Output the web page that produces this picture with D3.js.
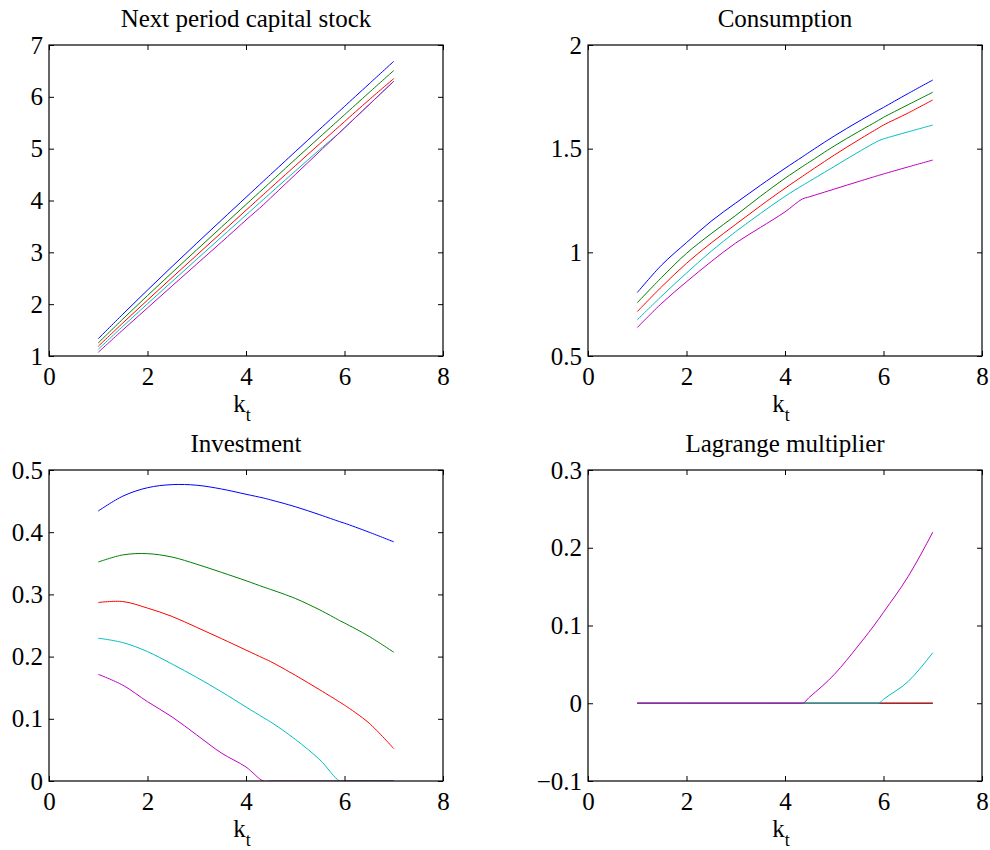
<!DOCTYPE html>
<meta charset="utf-8">
<style>
  body { margin: 0; background: #fff; }
  text { font-family: "Times New Roman", Times, "Liberation Serif", "DejaVu Serif", serif; fill: #000; }
</style>
<body>
<script src="https://d3js.org/d3.v7.min.js"></script>
<script>

// capital grid (k_t), shared by all series
var kGrid = [1, 1.5, 2, 2.5, 3, 3.5, 4, 4.35, 4.5, 5, 5.5, 5.9, 6, 6.5, 7];

// series colours (matlab default order)
var colors = ["#0000ff", "#008000", "#ff0000", "#00bfbf", "#bf00bf"];

// next period capital stock
var capBlue    = [1.334, 1.808, 2.272, 2.727, 3.176, 3.620, 4.061, 4.370, 4.502, 4.941, 5.378, 5.727, 5.815, 6.250, 6.685];
var capGreen   = [1.252, 1.714, 2.166, 2.610, 3.049, 3.486, 3.922, 4.227, 4.358, 4.794, 5.225, 5.568, 5.654, 6.083, 6.507];
var capRed     = [1.187, 1.638, 2.078, 2.515, 2.947, 3.379, 3.811, 4.113, 4.242, 4.670, 5.097, 5.437, 5.522, 5.943, 6.352];
var capCyan    = [1.130, 1.573, 2.008, 2.438, 2.867, 3.294, 3.719, 4.017, 4.145, 4.567, 4.984, 5.310, 5.400, 5.850, 6.300];
var capMagenta = [1.072, 1.504, 1.928, 2.353, 2.774, 3.195, 3.623, 3.915, 4.050, 4.500, 4.950, 5.310, 5.400, 5.850, 6.300];

// consumption
var conBlue    = [0.806, 0.940, 1.047, 1.150, 1.238, 1.323, 1.405, 1.460, 1.484, 1.561, 1.632, 1.686, 1.699, 1.766, 1.831];
var conGreen   = [0.757, 0.880, 0.995, 1.090, 1.178, 1.270, 1.357, 1.413, 1.436, 1.513, 1.583, 1.637, 1.651, 1.712, 1.772];
var conRed     = [0.714, 0.835, 0.947, 1.045, 1.135, 1.224, 1.309, 1.366, 1.390, 1.469, 1.543, 1.600, 1.614, 1.672, 1.735];
var conCyan    = [0.674, 0.790, 0.900, 1.005, 1.100, 1.187, 1.270, 1.322, 1.343, 1.414, 1.485, 1.538, 1.547, 1.581, 1.614];
var conMagenta = [0.637, 0.755, 0.858, 0.955, 1.045, 1.120, 1.195, 1.257, 1.268, 1.305, 1.342, 1.371, 1.378, 1.412, 1.445];

// investment
var invBlue    = [0.434, 0.458, 0.4715, 0.4765, 0.4755, 0.4695, 0.461, 0.455, 0.452, 0.441, 0.428, 0.417, 0.4145, 0.400, 0.3845];
var invGreen   = [0.352, 0.3635, 0.3655, 0.360, 0.3485, 0.3355, 0.322, 0.312, 0.308, 0.2935, 0.275, 0.258, 0.254, 0.2325, 0.207];
var invRed     = [0.287, 0.2885, 0.278, 0.2645, 0.247, 0.229, 0.2105, 0.1975, 0.192, 0.170, 0.1465, 0.127, 0.122, 0.093, 0.052];
var invCyan    = [0.2296, 0.2225, 0.208, 0.188, 0.1665, 0.1435, 0.119, 0.102, 0.095, 0.067, 0.034, 0, 0, 0, 0];
var invMagenta = [0.1715, 0.154, 0.1275, 0.103, 0.074, 0.045, 0.0225, 0, 0, 0, 0, 0, 0, 0, 0];

// lagrange multiplier
var lagBlue    = [0, 0, 0, 0, 0, 0, 0, 0, 0, 0, 0, 0, 0, 0, 0];
var lagGreen   = [0, 0, 0, 0, 0, 0, 0, 0, 0, 0, 0, 0, 0, 0, 0];
var lagRed     = [0, 0, 0, 0, 0, 0, 0, 0, 0, 0, 0, 0, 0, 0, 0];
var lagCyan    = [0, 0, 0, 0, 0, 0, 0, 0, 0, 0, 0, 0, 0.005, 0.028, 0.065];
var lagMagenta = [0, 0, 0, 0, 0, 0, 0, 0, 0.008, 0.037, 0.075, 0.108, 0.117, 0.163, 0.220];

// tick labels
var xTicks = [0, 2, 4, 6, 8];
var capTicks = [1, 2, 3, 4, 5, 6, 7];
var conTicks = [0.5, 1, 1.5, 2];
var invTicks = [0, 0.1, 0.2, 0.3, 0.4, 0.5];
var lagTicks = [-0.1, 0, 0.1, 0.2, 0.3];

var svg = d3.select("body").append("svg")
    .attr("width", 990)
    .attr("height", 850);

var w = 394, h = 311;

function panel(left, top, title, yDomain, yTicks, series, curve) {
  var x = d3.scaleLinear().domain([0, 8]).range([0, w]);
  var y = d3.scaleLinear().domain(yDomain).range([h, 0]);

  var g = svg.append("g")
      .attr("transform", "translate(" + left + "," + top + ")");

  var clip = "clip" + left + "_" + top;
  g.append("clipPath").attr("id", clip)
    .append("rect").attr("width", w).attr("height", h);

  var line = d3.line()
      .x(function(d, i) { return x(kGrid[i]); })
      .y(function(d) { return y(d); })
      .curve(curve);

  g.append("g").attr("clip-path", "url(#" + clip + ")")
    .selectAll("path")
    .data(series)
    .enter().append("path")
      .attr("d", line)
      .attr("fill", "none")
      .attr("stroke", function(d, i) { return colors[i]; })
      .attr("stroke-width", 1);

  // axes, ticks pointing inward like matlab
  var bottom = g.append("g").attr("transform", "translate(0," + h + ")")
      .call(d3.axisBottom(x).tickValues(xTicks).tickSizeInner(-5).tickSizeOuter(0).tickPadding(11));
  var topAx = g.append("g")
      .call(d3.axisTop(x).tickValues(xTicks).tickSizeInner(-5).tickSizeOuter(0).tickFormat(""));
  var leftAx = g.append("g")
      .call(d3.axisLeft(y).tickValues(yTicks).tickSizeInner(-5).tickSizeOuter(0).tickPadding(6).tickFormat(fmtNum));
  var rightAx = g.append("g").attr("transform", "translate(" + w + ",0)")
      .call(d3.axisRight(y).tickValues(yTicks).tickSizeInner(-5).tickSizeOuter(0).tickFormat(""));

  [bottom, topAx, leftAx, rightAx].forEach(function(a) {
    a.attr("font-family", null);
    a.select(".domain").remove();
    a.selectAll("line").attr("stroke", "#000");
    a.selectAll("text").attr("font-size", 25);
  });

  g.append("rect")
      .attr("width", w).attr("height", h)
      .attr("fill", "none").attr("stroke", "#000").attr("stroke-width", 1.2);

  g.append("text")
      .attr("x", w / 2).attr("y", -18)
      .attr("text-anchor", "middle")
      .attr("font-size", 25)
      .text(title);

  var xl = g.append("text")
      .attr("x", w / 2 - 4).attr("y", h + 56)
      .attr("text-anchor", "middle")
      .attr("font-size", 25);
  xl.append("tspan").text("k");
  xl.append("tspan").attr("font-size", 18).attr("dy", 9).text("t");
}

function fmtNum(d) { return d < 0 ? "\u2212" + Math.abs(d) : String(d); }

var smooth = d3.curveCatmullRom.alpha(0.5);

panel(49, 45, "Next period capital stock", [1, 7], capTicks,
      [capBlue, capGreen, capRed, capCyan, capMagenta], smooth);
panel(588, 45, "Consumption", [0.5, 2], conTicks,
      [conBlue, conGreen, conRed, conCyan, conMagenta], smooth);
panel(49, 470, "Investment", [0, 0.5], invTicks,
      [invBlue, invGreen, invRed, invCyan, invMagenta], smooth);
panel(588, 470, "Lagrange multiplier", [-0.1, 0.3], lagTicks,
      [lagBlue, lagGreen, lagRed, lagCyan, lagMagenta], d3.curveMonotoneX);

</script>
</body>
